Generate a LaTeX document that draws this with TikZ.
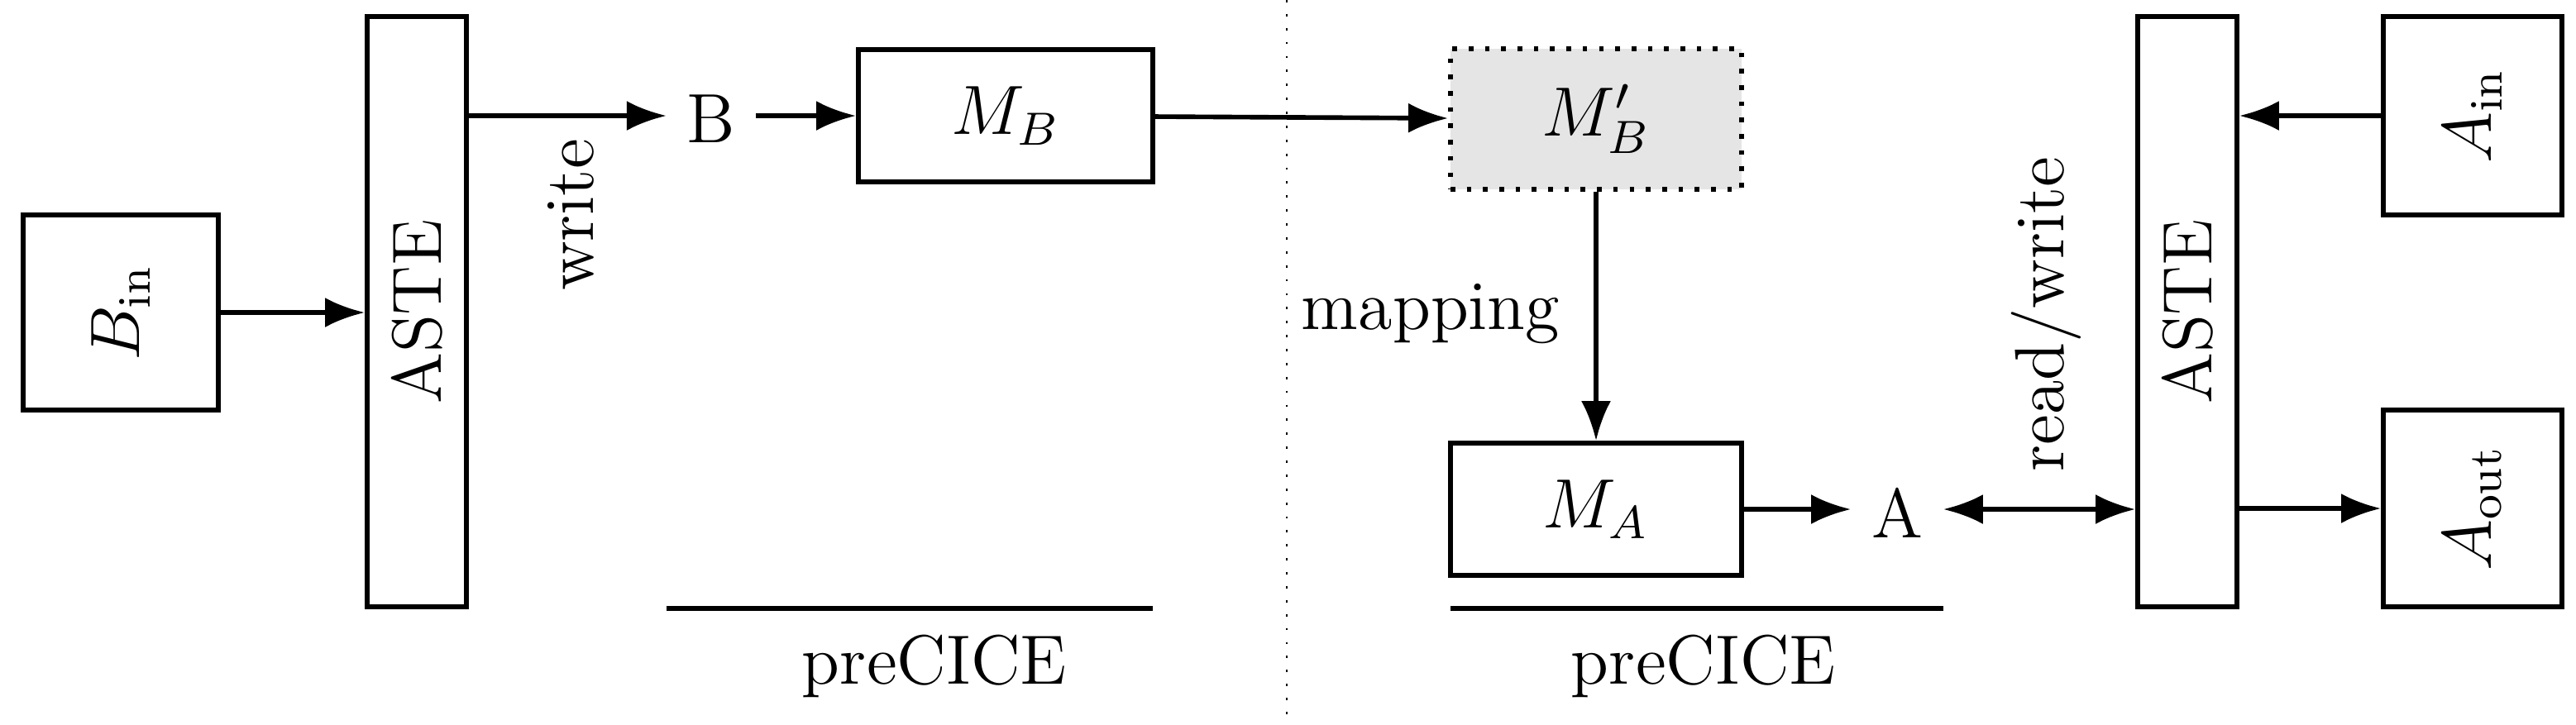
\documentclass[tikz,border=0pt]{standalone}
\usepackage{amsmath}
\usetikzlibrary{arrows.meta}

\begin{document}
\begin{tikzpicture}[x=0.01cm, y=-0.01cm, >={Latex[length=2.4mm,width=1.8mm]}, font=\large,
  box/.style={draw, thick, inner sep=0pt},
  arr/.style={thick, ->}]

\useasboundingbox (0,0) rectangle (1557.5,438);

\node[box, minimum height=1.18cm, minimum width=1.18cm] (bin) at (73,189) {\rotatebox{90}{$B_{\text{in}}$}};
\node[box, minimum width=0.6cm, minimum height=3.57cm] (asteL) at (252,188.5) {\rotatebox{90}{ASTE}};
\node (b) at (430,72) {B};
\node[box, minimum width=1.78cm, minimum height=0.8cm] (mb) at (608,70) {$M_B$};
\node[box, dotted, fill=gray!20, minimum width=1.76cm, minimum height=0.85cm] (mbp) at (965,72) {$M_B'$};
\node[box, minimum width=1.76cm, minimum height=0.8cm] (ma) at (965,308) {$M_A$};
\node (a) at (1147,310) {A};
\node[box, minimum width=0.6cm, minimum height=3.57cm] (asteR) at (1322.5,188.5) {\rotatebox{90}{ASTE}};
\node[box, minimum width=1.08cm, minimum height=1.2cm] (ain) at (1495,70) {\rotatebox{90}{$A_{\text{in}}$}};
\node[box, minimum width=1.08cm, minimum height=1.19cm] (aout) at (1495,307.5) {\rotatebox{90}{$A_{\text{out}}$}};
\node[rotate=90] (write) at (345,130) {write};
\node[rotate=90] (rw) at (1237,190) {read/write};
\node (map) at (865,190) {mapping};

\draw[arr] (bin) -- (bin -| asteL.west);
\draw[arr] (asteL.east |- mb) -- (b.west |- mb);
\draw[arr] (b.east |- mb) -- (mb);
\draw[arr] (mb) -- (mbp);
\draw[arr] (mbp) -- (ma);
\draw[arr] (ma) -- (ma -| a.west);
\draw[thick, <->] (a.east |- ma) -- (ma -| asteR.west);
\draw[arr] (ain) -- (ain -| asteR.east);
\draw[arr] (aout -| asteR.east) -- (aout);

\coordinate (sep1) at (778,0);
\coordinate (sep2) at (778,438);
\draw[dotted] (sep1) -- (sep2);

\coordinate (p1) at (403,368);
\coordinate (p2) at (697,368);
\coordinate (p3) at (877,368);
\coordinate (p4) at (1175,368);
\draw[thick] (p1) -- (p2);
\draw[thick] (p3) -- (p4);
\node (pre1) at (565,403) {preCICE};
\node (pre2) at (1030,403) {preCICE};

\end{tikzpicture}
\end{document}
